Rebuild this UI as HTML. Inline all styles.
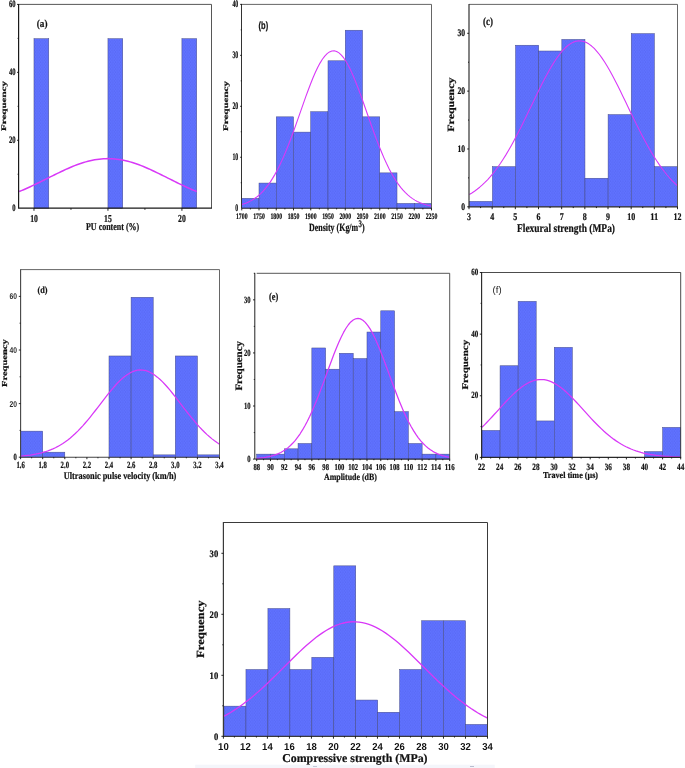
<!DOCTYPE html>
<html><head><meta charset="utf-8"><title>Histograms</title>
<style>
html,body{margin:0;padding:0;background:#fff;}
body{width:685px;height:768px;overflow:hidden;font-family:"Liberation Serif",serif;}
svg{display:block;}
</style></head>
<body>
<svg width="685" height="768" viewBox="0 0 685 768" text-rendering="geometricPrecision">
<defs><pattern id="dots" width="2.5" height="3.4" patternUnits="userSpaceOnUse"><circle cx="0.6" cy="0.85" r="0.5" fill="#3848c8" fill-opacity="0.5"/><circle cx="1.85" cy="2.55" r="0.5" fill="#3848c8" fill-opacity="0.5"/></pattern></defs>
<rect width="685" height="768" fill="#fff"/>
<rect x="33.98" y="38.72" width="14.79" height="169.48" fill="#6072ff"/><rect x="33.98" y="38.72" width="14.79" height="169.48" fill="url(#dots)" stroke="#454b85" stroke-width="0.5"/>
<rect x="107.95" y="38.72" width="14.79" height="169.48" fill="#6072ff"/><rect x="107.95" y="38.72" width="14.79" height="169.48" fill="url(#dots)" stroke="#454b85" stroke-width="0.5"/>
<rect x="181.91" y="38.72" width="14.79" height="169.48" fill="#6072ff"/><rect x="181.91" y="38.72" width="14.79" height="169.48" fill="url(#dots)" stroke="#454b85" stroke-width="0.5"/>
<polyline points="19.19,191.56 21.41,190.64 23.63,189.69 25.85,188.72 28.07,187.72 30.29,186.71 32.51,185.67 34.72,184.62 36.94,183.55 39.16,182.46 41.38,181.37 43.6,180.27 45.82,179.16 48.04,178.05 50.26,176.94 52.48,175.83 54.69,174.73 56.91,173.64 59.13,172.56 61.35,171.5 63.57,170.46 65.79,169.44 68.01,168.45 70.23,167.49 72.45,166.56 74.67,165.67 76.88,164.82 79.1,164.01 81.32,163.25 83.54,162.54 85.76,161.88 87.98,161.28 90.2,160.73 92.42,160.24 94.64,159.81 96.85,159.45 99.07,159.15 101.29,158.91 103.51,158.74 105.73,158.64 107.95,158.61 110.17,158.64 112.39,158.74 114.61,158.91 116.83,159.15 119.04,159.45 121.26,159.81 123.48,160.24 125.7,160.73 127.92,161.28 130.14,161.88 132.36,162.54 134.58,163.25 136.8,164.01 139.01,164.82 141.23,165.67 143.45,166.56 145.67,167.49 147.89,168.45 150.11,169.44 152.33,170.46 154.55,171.5 156.77,172.56 158.99,173.64 161.2,174.73 163.42,175.83 165.64,176.94 167.86,178.05 170.08,179.16 172.3,180.27 174.52,181.37 176.74,182.46 178.96,183.55 181.17,184.62 183.39,185.67 185.61,186.71 187.83,187.72 190.05,188.72 192.27,189.69 194.49,190.64 196.71,191.56" fill="none" stroke="#d838f7" stroke-width="1.5" stroke-linejoin="round" stroke-linecap="butt"/>
<path d="M18.6,4.4 H211.5 V208.2" fill="none" stroke="#444" stroke-width="0.9"/>
<path d="M18.6,3.95 V208.2 H211.95" fill="none" stroke="#1a1a1a" stroke-width="1.2"/>
<path d="M33.98,208.2v2.6M107.95,208.2v2.6M181.91,208.2v2.6" stroke="#111" stroke-width="0.9" fill="none"/>
<path d="M70.97,208.2v1.6M144.93,208.2v1.6" stroke="#111" stroke-width="0.9" fill="none"/>
<path d="M18.6,140.27h-1.6M18.6,72.33h-1.6M18.6,4.4h-1.6" stroke="#111" stroke-width="0.9" fill="none"/>
<path d="M18.6,174.23h-1M18.6,106.3h-1M18.6,38.37h-1" stroke="#111" stroke-width="0.9" fill="none"/>
<rect x="241.75" y="198.36" width="17.25" height="9.84" fill="#6072ff"/><rect x="241.75" y="198.36" width="17.25" height="9.84" fill="url(#dots)" stroke="#454b85" stroke-width="0.5"/>
<rect x="259" y="183.07" width="17.25" height="25.12" fill="#6072ff"/><rect x="259" y="183.07" width="17.25" height="25.12" fill="url(#dots)" stroke="#454b85" stroke-width="0.5"/>
<rect x="276.25" y="116.84" width="17.25" height="91.36" fill="#6072ff"/><rect x="276.25" y="116.84" width="17.25" height="91.36" fill="url(#dots)" stroke="#454b85" stroke-width="0.5"/>
<rect x="293.5" y="132.12" width="17.25" height="76.08" fill="#6072ff"/><rect x="293.5" y="132.12" width="17.25" height="76.08" fill="url(#dots)" stroke="#454b85" stroke-width="0.5"/>
<rect x="310.75" y="111.74" width="17.25" height="96.45" fill="#6072ff"/><rect x="310.75" y="111.74" width="17.25" height="96.45" fill="url(#dots)" stroke="#454b85" stroke-width="0.5"/>
<rect x="328" y="60.79" width="17.25" height="147.41" fill="#6072ff"/><rect x="328" y="60.79" width="17.25" height="147.41" fill="url(#dots)" stroke="#454b85" stroke-width="0.5"/>
<rect x="345.25" y="30.23" width="17.25" height="177.97" fill="#6072ff"/><rect x="345.25" y="30.23" width="17.25" height="177.97" fill="url(#dots)" stroke="#454b85" stroke-width="0.5"/>
<rect x="362.5" y="116.84" width="17.25" height="91.36" fill="#6072ff"/><rect x="362.5" y="116.84" width="17.25" height="91.36" fill="url(#dots)" stroke="#454b85" stroke-width="0.5"/>
<rect x="379.75" y="172.88" width="17.25" height="35.31" fill="#6072ff"/><rect x="379.75" y="172.88" width="17.25" height="35.31" fill="url(#dots)" stroke="#454b85" stroke-width="0.5"/>
<rect x="397" y="203.45" width="17.25" height="4.75" fill="#6072ff"/><rect x="397" y="203.45" width="17.25" height="4.75" fill="url(#dots)" stroke="#454b85" stroke-width="0.5"/>
<rect x="414.25" y="203.45" width="17.25" height="4.75" fill="#6072ff"/><rect x="414.25" y="203.45" width="17.25" height="4.75" fill="url(#dots)" stroke="#454b85" stroke-width="0.5"/>
<polyline points="241.75,204.59 244.12,203.82 246.49,202.92 248.87,201.86 251.24,200.63 253.61,199.21 255.98,197.57 258.35,195.7 260.73,193.57 263.1,191.16 265.47,188.46 267.84,185.44 270.21,182.09 272.58,178.4 274.96,174.37 277.33,169.98 279.7,165.23 282.07,160.14 284.44,154.72 286.82,148.99 289.19,142.97 291.56,136.7 293.93,130.22 296.3,123.59 298.68,116.85 301.05,110.07 303.42,103.32 305.79,96.67 308.16,90.19 310.53,83.97 312.91,78.07 315.28,72.58 317.65,67.57 320.02,63.11 322.39,59.26 324.77,56.08 327.14,53.61 329.51,51.9 331.88,50.95 334.25,50.8 336.62,51.44 339,52.87 341.37,55.05 343.74,57.97 346.11,61.57 348.48,65.8 350.86,70.61 353.23,75.92 355.6,81.67 357.97,87.78 360.34,94.17 362.72,100.77 365.09,107.49 367.46,114.26 369.83,121.03 372.2,127.71 374.57,134.25 376.95,140.6 379.32,146.72 381.69,152.57 384.06,158.11 386.43,163.33 388.81,168.21 391.18,172.73 393.55,176.9 395.92,180.72 398.29,184.2 400.67,187.34 403.04,190.16 405.41,192.68 407.78,194.91 410.15,196.88 412.52,198.61 414.9,200.11 417.27,201.42 419.64,202.54 422.01,203.5 424.38,204.31 426.76,205 429.13,205.59 431.5,206.07" fill="none" stroke="#d838f7" stroke-width="1.1" stroke-linejoin="round" stroke-linecap="butt"/>
<path d="M241.5,4.4 H431.5 V208.2" fill="none" stroke="#555" stroke-width="0.9"/>
<path d="M241.5,3.95 V208.2 H431.95" fill="none" stroke="#333" stroke-width="1.0"/>
<path d="M241.75,208.2v2.2M259,208.2v2.2M276.25,208.2v2.2M293.5,208.2v2.2M310.75,208.2v2.2M328,208.2v2.2M345.25,208.2v2.2M362.5,208.2v2.2M379.75,208.2v2.2M397,208.2v2.2M414.25,208.2v2.2M431.5,208.2v2.2" stroke="#111" stroke-width="0.9" fill="none"/>
<path d="M250.38,208.2v1.2M267.62,208.2v1.2M284.88,208.2v1.2M302.12,208.2v1.2M319.38,208.2v1.2M336.62,208.2v1.2M353.88,208.2v1.2M371.12,208.2v1.2M388.38,208.2v1.2M405.62,208.2v1.2M422.88,208.2v1.2" stroke="#111" stroke-width="0.9" fill="none"/>
<path d="M241.75,157.25h-1.6M241.75,106.3h-1.6M241.75,55.35h-1.6M241.75,4.4h-1.6" stroke="#111" stroke-width="0.9" fill="none"/>
<path d="M241.75,182.72h-1M241.75,131.77h-1M241.75,80.83h-1M241.75,29.88h-1" stroke="#111" stroke-width="0.9" fill="none"/>
<rect x="469.3" y="201.37" width="23.13" height="5.43" fill="#6072ff"/><rect x="469.3" y="201.37" width="23.13" height="5.43" fill="url(#dots)" stroke="#454b85" stroke-width="0.5"/>
<rect x="492.43" y="166.67" width="23.13" height="40.13" fill="#6072ff"/><rect x="492.43" y="166.67" width="23.13" height="40.13" fill="url(#dots)" stroke="#454b85" stroke-width="0.5"/>
<rect x="515.57" y="45.23" width="23.13" height="161.57" fill="#6072ff"/><rect x="515.57" y="45.23" width="23.13" height="161.57" fill="url(#dots)" stroke="#454b85" stroke-width="0.5"/>
<rect x="538.7" y="51.01" width="23.13" height="155.79" fill="#6072ff"/><rect x="538.7" y="51.01" width="23.13" height="155.79" fill="url(#dots)" stroke="#454b85" stroke-width="0.5"/>
<rect x="561.83" y="39.45" width="23.13" height="167.35" fill="#6072ff"/><rect x="561.83" y="39.45" width="23.13" height="167.35" fill="url(#dots)" stroke="#454b85" stroke-width="0.5"/>
<rect x="584.97" y="178.24" width="23.13" height="28.56" fill="#6072ff"/><rect x="584.97" y="178.24" width="23.13" height="28.56" fill="url(#dots)" stroke="#454b85" stroke-width="0.5"/>
<rect x="608.1" y="114.62" width="23.13" height="92.18" fill="#6072ff"/><rect x="608.1" y="114.62" width="23.13" height="92.18" fill="url(#dots)" stroke="#454b85" stroke-width="0.5"/>
<rect x="631.23" y="33.66" width="23.13" height="173.14" fill="#6072ff"/><rect x="631.23" y="33.66" width="23.13" height="173.14" fill="url(#dots)" stroke="#454b85" stroke-width="0.5"/>
<rect x="654.37" y="166.67" width="23.13" height="40.13" fill="#6072ff"/><rect x="654.37" y="166.67" width="23.13" height="40.13" fill="url(#dots)" stroke="#454b85" stroke-width="0.5"/>
<polyline points="469.3,194.55 471.9,192.96 474.5,191.21 477.11,189.3 479.71,187.21 482.31,184.93 484.92,182.45 487.52,179.78 490.12,176.89 492.72,173.8 495.32,170.49 497.93,166.97 500.53,163.23 503.13,159.28 505.74,155.12 508.34,150.76 510.94,146.21 513.54,141.49 516.14,136.59 518.75,131.55 521.35,126.39 523.95,121.11 526.55,115.76 529.16,110.36 531.76,104.93 534.36,99.51 536.97,94.12 539.57,88.82 542.17,83.62 544.77,78.56 547.38,73.69 549.98,69.03 552.58,64.63 555.18,60.51 557.78,56.71 560.39,53.26 562.99,50.18 565.59,47.51 568.2,45.26 570.8,43.46 573.4,42.12 576,41.25 578.61,40.86 581.21,40.95 583.81,41.52 586.41,42.57 589.01,44.09 591.62,46.06 594.22,48.47 596.82,51.3 599.42,54.52 602.03,58.11 604.63,62.03 607.23,66.26 609.84,70.77 612.44,75.51 615.04,80.45 617.64,85.57 620.25,90.81 622.85,96.15 625.45,101.55 628.05,106.98 630.65,112.4 633.26,117.79 635.86,123.12 638.46,128.35 641.07,133.47 643.67,138.46 646.27,143.29 648.87,147.95 651.48,152.43 654.08,156.72 656.68,160.8 659.28,164.67 661.88,168.32 664.49,171.77 667.09,174.99 669.69,178.01 672.3,180.81 674.9,183.41 677.5,185.81" fill="none" stroke="#d838f7" stroke-width="1.1" stroke-linejoin="round" stroke-linecap="butt"/>
<path d="M469,4.4 H677.5 V206.8" fill="none" stroke="#555" stroke-width="0.9"/>
<path d="M469,3.95 V206.8 H677.95" fill="none" stroke="#333" stroke-width="1.2"/>
<path d="M469,206.8v2.4M492.17,206.8v2.4M515.33,206.8v2.4M538.5,206.8v2.4M561.67,206.8v2.4M584.83,206.8v2.4M608,206.8v2.4M631.17,206.8v2.4M654.33,206.8v2.4M677.5,206.8v2.4" stroke="#111" stroke-width="0.9" fill="none"/>
<path d="M480.58,206.8v1.3M503.75,206.8v1.3M526.92,206.8v1.3M550.08,206.8v1.3M573.25,206.8v1.3M596.42,206.8v1.3M619.58,206.8v1.3M642.75,206.8v1.3M665.92,206.8v1.3" stroke="#111" stroke-width="0.9" fill="none"/>
<path d="M469,206.8h-1.8M469,148.97h-1.8M469,91.14h-1.8M469,33.31h-1.8" stroke="#111" stroke-width="0.9" fill="none"/>
<path d="M469,177.89h-1M469,120.06h-1M469,62.23h-1" stroke="#111" stroke-width="0.9" fill="none"/>
<rect x="20.6" y="431.15" width="22.1" height="26.05" fill="#6072ff"/><rect x="20.6" y="431.15" width="22.1" height="26.05" fill="url(#dots)" stroke="#454b85" stroke-width="0.5"/>
<rect x="42.7" y="452.19" width="22.1" height="5.01" fill="#6072ff"/><rect x="42.7" y="452.19" width="22.1" height="5.01" fill="url(#dots)" stroke="#454b85" stroke-width="0.5"/>
<rect x="109" y="355.98" width="22.1" height="101.22" fill="#6072ff"/><rect x="109" y="355.98" width="22.1" height="101.22" fill="url(#dots)" stroke="#454b85" stroke-width="0.5"/>
<rect x="131.1" y="297.29" width="22.1" height="159.91" fill="#6072ff"/><rect x="131.1" y="297.29" width="22.1" height="159.91" fill="url(#dots)" stroke="#454b85" stroke-width="0.5"/>
<rect x="153.2" y="454.87" width="22.1" height="2.33" fill="#6072ff"/><rect x="153.2" y="454.87" width="22.1" height="2.33" fill="url(#dots)" stroke="#454b85" stroke-width="0.5"/>
<rect x="175.3" y="355.98" width="22.1" height="101.22" fill="#6072ff"/><rect x="175.3" y="355.98" width="22.1" height="101.22" fill="url(#dots)" stroke="#454b85" stroke-width="0.5"/>
<rect x="197.4" y="454.87" width="22.1" height="2.33" fill="#6072ff"/><rect x="197.4" y="454.87" width="22.1" height="2.33" fill="url(#dots)" stroke="#454b85" stroke-width="0.5"/>
<polyline points="20.6,456.13 23.09,455.92 25.57,455.67 28.06,455.38 30.55,455.05 33.03,454.66 35.52,454.22 38,453.71 40.49,453.13 42.98,452.46 45.46,451.72 47.95,450.88 50.44,449.93 52.92,448.88 55.41,447.71 57.89,446.42 60.38,445 62.87,443.45 65.35,441.75 67.84,439.91 70.33,437.93 72.81,435.79 75.3,433.51 77.78,431.09 80.27,428.53 82.76,425.84 85.24,423.02 87.73,420.09 90.22,417.06 92.7,413.94 95.19,410.76 97.67,407.54 100.16,404.29 102.65,401.04 105.13,397.82 107.62,394.65 110.11,391.55 112.59,388.57 115.08,385.72 117.56,383.03 120.05,380.53 122.54,378.25 125.02,376.21 127.51,374.42 130,372.92 132.48,371.71 134.97,370.81 137.45,370.23 139.94,369.98 142.43,370.05 144.91,370.46 147.4,371.19 149.88,372.23 152.37,373.58 154.86,375.22 157.34,377.13 159.83,379.29 162.32,381.67 164.8,384.26 167.29,387.03 169.78,389.95 172.26,392.99 174.75,396.12 177.23,399.32 179.72,402.56 182.21,405.81 184.69,409.05 187.18,412.25 189.66,415.41 192.15,418.48 194.64,421.47 197.12,424.35 199.61,427.11 202.1,429.74 204.58,432.24 207.07,434.6 209.55,436.81 212.04,438.87 214.53,440.79 217.01,442.56 219.5,444.19" fill="none" stroke="#d838f7" stroke-width="1.25" stroke-linejoin="round" stroke-linecap="butt"/>
<path d="M20.6,269.6 H219.5 V457.2" fill="none" stroke="#555" stroke-width="0.9"/>
<path d="M20.6,269.15 V457.2 H219.95" fill="none" stroke="#444" stroke-width="1.1"/>
<path d="M20.6,457.2v2M42.7,457.2v2M64.8,457.2v2M86.9,457.2v2M109,457.2v2M131.1,457.2v2M153.2,457.2v2M175.3,457.2v2M197.4,457.2v2M219.5,457.2v2" stroke="#111" stroke-width="0.9" fill="none"/>
<path d="M31.65,457.2v1.1M53.75,457.2v1.1M75.85,457.2v1.1M97.95,457.2v1.1M120.05,457.2v1.1M142.15,457.2v1.1M164.25,457.2v1.1M186.35,457.2v1.1M208.45,457.2v1.1" stroke="#111" stroke-width="0.9" fill="none"/>
<path d="M20.6,457.2h-1.8M20.6,403.6h-1.8M20.6,350h-1.8M20.6,296.4h-1.8" stroke="#111" stroke-width="0.9" fill="none"/>
<path d="M20.6,430.4h-1M20.6,376.8h-1M20.6,323.2h-1" stroke="#111" stroke-width="0.9" fill="none"/>
<rect x="256.7" y="454.14" width="13.79" height="4.96" fill="#6072ff"/><rect x="256.7" y="454.14" width="13.79" height="4.96" fill="url(#dots)" stroke="#454b85" stroke-width="0.5"/>
<rect x="270.49" y="454.14" width="13.79" height="4.96" fill="#6072ff"/><rect x="270.49" y="454.14" width="13.79" height="4.96" fill="url(#dots)" stroke="#454b85" stroke-width="0.5"/>
<rect x="284.27" y="448.83" width="13.79" height="10.27" fill="#6072ff"/><rect x="284.27" y="448.83" width="13.79" height="10.27" fill="url(#dots)" stroke="#454b85" stroke-width="0.5"/>
<rect x="298.06" y="443.52" width="13.79" height="15.58" fill="#6072ff"/><rect x="298.06" y="443.52" width="13.79" height="15.58" fill="url(#dots)" stroke="#454b85" stroke-width="0.5"/>
<rect x="311.84" y="347.97" width="13.79" height="111.13" fill="#6072ff"/><rect x="311.84" y="347.97" width="13.79" height="111.13" fill="url(#dots)" stroke="#454b85" stroke-width="0.5"/>
<rect x="325.63" y="369.2" width="13.79" height="89.9" fill="#6072ff"/><rect x="325.63" y="369.2" width="13.79" height="89.9" fill="url(#dots)" stroke="#454b85" stroke-width="0.5"/>
<rect x="339.41" y="353.28" width="13.79" height="105.82" fill="#6072ff"/><rect x="339.41" y="353.28" width="13.79" height="105.82" fill="url(#dots)" stroke="#454b85" stroke-width="0.5"/>
<rect x="353.2" y="358.59" width="13.79" height="100.51" fill="#6072ff"/><rect x="353.2" y="358.59" width="13.79" height="100.51" fill="url(#dots)" stroke="#454b85" stroke-width="0.5"/>
<rect x="366.99" y="332.04" width="13.79" height="127.06" fill="#6072ff"/><rect x="366.99" y="332.04" width="13.79" height="127.06" fill="url(#dots)" stroke="#454b85" stroke-width="0.5"/>
<rect x="380.77" y="310.81" width="13.79" height="148.29" fill="#6072ff"/><rect x="380.77" y="310.81" width="13.79" height="148.29" fill="url(#dots)" stroke="#454b85" stroke-width="0.5"/>
<rect x="394.56" y="411.67" width="13.79" height="47.43" fill="#6072ff"/><rect x="394.56" y="411.67" width="13.79" height="47.43" fill="url(#dots)" stroke="#454b85" stroke-width="0.5"/>
<rect x="408.34" y="443.52" width="13.79" height="15.58" fill="#6072ff"/><rect x="408.34" y="443.52" width="13.79" height="15.58" fill="url(#dots)" stroke="#454b85" stroke-width="0.5"/>
<rect x="422.13" y="454.14" width="13.79" height="4.96" fill="#6072ff"/><rect x="422.13" y="454.14" width="13.79" height="4.96" fill="url(#dots)" stroke="#454b85" stroke-width="0.5"/>
<rect x="435.91" y="454.14" width="13.79" height="4.96" fill="#6072ff"/><rect x="435.91" y="454.14" width="13.79" height="4.96" fill="url(#dots)" stroke="#454b85" stroke-width="0.5"/>
<polyline points="256.7,458.37 259.11,458.17 261.53,457.91 263.94,457.6 266.35,457.21 268.76,456.73 271.17,456.16 273.59,455.46 276,454.63 278.41,453.63 280.82,452.46 283.24,451.08 285.65,449.48 288.06,447.63 290.48,445.5 292.89,443.06 295.3,440.31 297.71,437.22 300.12,433.77 302.54,429.95 304.95,425.76 307.36,421.19 309.77,416.26 312.19,410.97 314.6,405.35 317.01,399.43 319.42,393.26 321.84,386.89 324.25,380.37 326.66,373.77 329.07,367.18 331.49,360.67 333.9,354.33 336.31,348.24 338.73,342.51 341.14,337.21 343.55,332.43 345.96,328.25 348.38,324.74 350.79,321.96 353.2,319.96 355.61,318.77 358.03,318.43 360.44,318.92 362.85,320.25 365.26,322.38 367.67,325.29 370.09,328.92 372.5,333.21 374.91,338.08 377.32,343.46 379.74,349.26 382.15,355.4 384.56,361.78 386.98,368.31 389.39,374.91 391.8,381.49 394.21,387.99 396.62,394.34 399.04,400.47 401.45,406.34 403.86,411.9 406.27,417.13 408.69,422 411.1,426.51 413.51,430.63 415.92,434.39 418.34,437.78 420.75,440.81 423.16,443.5 425.57,445.88 427.99,447.96 430.4,449.77 432.81,451.34 435.23,452.68 437.64,453.82 440.05,454.78 442.46,455.59 444.88,456.26 447.29,456.82 449.7,457.28" fill="none" stroke="#d838f7" stroke-width="1.25" stroke-linejoin="round" stroke-linecap="butt"/>
<path d="M256.7,273.3 H449.7 V459.1" fill="none" stroke="#444" stroke-width="0.9"/>
<path d="M254.8,272.9 V459.1 H450.1" fill="none" stroke="#222" stroke-width="1.0"/>
<path d="M256.7,459.1v2M270.49,459.1v2M284.27,459.1v2M298.06,459.1v2M311.84,459.1v2M325.63,459.1v2M339.41,459.1v2M353.2,459.1v2M366.99,459.1v2M380.77,459.1v2M394.56,459.1v2M408.34,459.1v2M422.13,459.1v2M435.91,459.1v2M449.7,459.1v2" stroke="#111" stroke-width="0.9" fill="none"/>
<path d="M263.59,459.1v1.1M277.38,459.1v1.1M291.16,459.1v1.1M304.95,459.1v1.1M318.74,459.1v1.1M332.52,459.1v1.1M346.31,459.1v1.1M360.09,459.1v1.1M373.88,459.1v1.1M387.66,459.1v1.1M401.45,459.1v1.1M415.24,459.1v1.1M429.02,459.1v1.1M442.81,459.1v1.1" stroke="#111" stroke-width="0.9" fill="none"/>
<path d="M254.8,459.1h-1.8M254.8,406.01h-1.8M254.8,352.93h-1.8M254.8,299.84h-1.8" stroke="#111" stroke-width="0.9" fill="none"/>
<path d="M254.8,432.56h-1M254.8,379.47h-1M254.8,326.39h-1M254.8,273.3h-1" stroke="#111" stroke-width="0.9" fill="none"/>
<rect x="482" y="430.46" width="18.06" height="26.94" fill="#6072ff"/><rect x="482" y="430.46" width="18.06" height="26.94" fill="url(#dots)" stroke="#454b85" stroke-width="0.5"/>
<rect x="500.06" y="365.76" width="18.06" height="91.64" fill="#6072ff"/><rect x="500.06" y="365.76" width="18.06" height="91.64" fill="url(#dots)" stroke="#454b85" stroke-width="0.5"/>
<rect x="518.13" y="301.37" width="18.06" height="156.03" fill="#6072ff"/><rect x="518.13" y="301.37" width="18.06" height="156.03" fill="url(#dots)" stroke="#454b85" stroke-width="0.5"/>
<rect x="536.19" y="420.95" width="18.06" height="36.45" fill="#6072ff"/><rect x="536.19" y="420.95" width="18.06" height="36.45" fill="url(#dots)" stroke="#454b85" stroke-width="0.5"/>
<rect x="554.25" y="347.36" width="18.06" height="110.04" fill="#6072ff"/><rect x="554.25" y="347.36" width="18.06" height="110.04" fill="url(#dots)" stroke="#454b85" stroke-width="0.5"/>
<rect x="644.57" y="451.62" width="18.06" height="5.78" fill="#6072ff"/><rect x="644.57" y="451.62" width="18.06" height="5.78" fill="url(#dots)" stroke="#454b85" stroke-width="0.5"/>
<rect x="662.64" y="427.39" width="18.06" height="30.01" fill="#6072ff"/><rect x="662.64" y="427.39" width="18.06" height="30.01" fill="url(#dots)" stroke="#454b85" stroke-width="0.5"/>
<polyline points="482,427.28 484.48,424.82 486.97,422.28 489.45,419.67 491.94,417 494.42,414.29 496.9,411.56 499.39,408.81 501.87,406.08 504.35,403.37 506.84,400.71 509.32,398.12 511.81,395.62 514.29,393.24 516.77,390.99 519.26,388.89 521.74,386.96 524.22,385.22 526.71,383.69 529.19,382.38 531.67,381.31 534.16,380.48 536.64,379.9 539.13,379.58 541.61,379.53 544.09,379.73 546.58,380.2 549.06,380.93 551.55,381.9 554.03,383.11 556.51,384.55 559,386.21 561.48,388.06 563.96,390.09 566.45,392.28 568.93,394.61 571.41,397.06 573.9,399.62 576.38,402.25 578.87,404.94 581.35,407.67 583.83,410.41 586.32,413.15 588.8,415.88 591.29,418.56 593.77,421.2 596.25,423.77 598.74,426.26 601.22,428.67 603.7,430.98 606.19,433.18 608.67,435.28 611.15,437.26 613.64,439.13 616.12,440.88 618.61,442.51 621.09,444.03 623.57,445.43 626.06,446.73 628.54,447.91 631.03,448.99 633.51,449.97 635.99,450.86 638.48,451.67 640.96,452.39 643.44,453.03 645.93,453.61 648.41,454.12 650.9,454.57 653.38,454.97 655.86,455.32 658.35,455.62 660.83,455.89 663.31,456.12 665.8,456.32 668.28,456.49 670.77,456.63 673.25,456.76 675.73,456.87 678.22,456.96 680.7,457.03" fill="none" stroke="#d838f7" stroke-width="1.25" stroke-linejoin="round" stroke-linecap="butt"/>
<path d="M481.6,272.5 H680.7 V457.4" fill="none" stroke="#383838" stroke-width="0.9"/>
<path d="M481.6,272.05 V457.4 H681.15" fill="none" stroke="#2a2a2a" stroke-width="1.15"/>
<path d="M481.6,457.4v2M499.7,457.4v2M517.8,457.4v2M535.9,457.4v2M554,457.4v2M572.1,457.4v2M590.2,457.4v2M608.3,457.4v2M626.4,457.4v2M644.5,457.4v2M662.6,457.4v2M680.7,457.4v2" stroke="#111" stroke-width="0.9" fill="none"/>
<path d="M490.65,457.4v1.1M508.75,457.4v1.1M526.85,457.4v1.1M544.95,457.4v1.1M563.05,457.4v1.1M581.15,457.4v1.1M599.25,457.4v1.1M617.35,457.4v1.1M635.45,457.4v1.1M653.55,457.4v1.1M671.65,457.4v1.1" stroke="#111" stroke-width="0.9" fill="none"/>
<path d="M481.6,457.4h-1.8M481.6,395.77h-1.8M481.6,334.13h-1.8M481.6,272.5h-1.8" stroke="#111" stroke-width="0.9" fill="none"/>
<path d="M481.6,426.58h-1M481.6,364.95h-1M481.6,303.32h-1" stroke="#111" stroke-width="0.9" fill="none"/>
<rect x="224" y="706.15" width="21.96" height="30.15" fill="#6072ff"/><rect x="224" y="706.15" width="21.96" height="30.15" fill="url(#dots)" stroke="#454b85" stroke-width="0.5"/>
<rect x="245.96" y="669.55" width="21.96" height="66.75" fill="#6072ff"/><rect x="245.96" y="669.55" width="21.96" height="66.75" fill="url(#dots)" stroke="#454b85" stroke-width="0.5"/>
<rect x="267.92" y="608.55" width="21.96" height="127.75" fill="#6072ff"/><rect x="267.92" y="608.55" width="21.96" height="127.75" fill="url(#dots)" stroke="#454b85" stroke-width="0.5"/>
<rect x="289.88" y="669.55" width="21.96" height="66.75" fill="#6072ff"/><rect x="289.88" y="669.55" width="21.96" height="66.75" fill="url(#dots)" stroke="#454b85" stroke-width="0.5"/>
<rect x="311.83" y="657.35" width="21.96" height="78.95" fill="#6072ff"/><rect x="311.83" y="657.35" width="21.96" height="78.95" fill="url(#dots)" stroke="#454b85" stroke-width="0.5"/>
<rect x="333.79" y="565.85" width="21.96" height="170.45" fill="#6072ff"/><rect x="333.79" y="565.85" width="21.96" height="170.45" fill="url(#dots)" stroke="#454b85" stroke-width="0.5"/>
<rect x="355.75" y="700.05" width="21.96" height="36.25" fill="#6072ff"/><rect x="355.75" y="700.05" width="21.96" height="36.25" fill="url(#dots)" stroke="#454b85" stroke-width="0.5"/>
<rect x="377.71" y="712.25" width="21.96" height="24.05" fill="#6072ff"/><rect x="377.71" y="712.25" width="21.96" height="24.05" fill="url(#dots)" stroke="#454b85" stroke-width="0.5"/>
<rect x="399.67" y="669.55" width="21.96" height="66.75" fill="#6072ff"/><rect x="399.67" y="669.55" width="21.96" height="66.75" fill="url(#dots)" stroke="#454b85" stroke-width="0.5"/>
<rect x="421.62" y="620.75" width="21.96" height="115.55" fill="#6072ff"/><rect x="421.62" y="620.75" width="21.96" height="115.55" fill="url(#dots)" stroke="#454b85" stroke-width="0.5"/>
<rect x="443.58" y="620.75" width="21.96" height="115.55" fill="#6072ff"/><rect x="443.58" y="620.75" width="21.96" height="115.55" fill="url(#dots)" stroke="#454b85" stroke-width="0.5"/>
<rect x="465.54" y="724.45" width="21.96" height="11.85" fill="#6072ff"/><rect x="465.54" y="724.45" width="21.96" height="11.85" fill="url(#dots)" stroke="#454b85" stroke-width="0.5"/>
<polyline points="224,716.21 227.29,714.38 230.59,712.44 233.88,710.38 237.17,708.21 240.47,705.92 243.76,703.53 247.06,701.02 250.35,698.4 253.64,695.68 256.94,692.87 260.23,689.96 263.52,686.97 266.82,683.9 270.11,680.77 273.41,677.58 276.7,674.35 279.99,671.09 283.29,667.8 286.58,664.52 289.88,661.24 293.17,657.99 296.46,654.78 299.76,651.63 303.05,648.56 306.34,645.57 309.64,642.7 312.93,639.95 316.22,637.34 319.52,634.89 322.81,632.61 326.11,630.51 329.4,628.62 332.69,626.93 335.99,625.47 339.28,624.24 342.57,623.25 345.87,622.5 349.16,622.01 352.46,621.77 355.75,621.79 359.04,622.06 362.34,622.59 365.63,623.36 368.92,624.39 372.22,625.65 375.51,627.14 378.81,628.86 382.1,630.78 385.39,632.9 388.69,635.21 391.98,637.68 395.27,640.31 398.57,643.08 401.86,645.97 405.16,648.96 408.45,652.05 411.74,655.21 415.04,658.42 418.33,661.68 421.62,664.96 424.92,668.24 428.21,671.52 431.51,674.78 434.8,678.01 438.09,681.19 441.39,684.32 444.68,687.37 447.98,690.35 451.27,693.25 454.56,696.05 457.86,698.76 461.15,701.36 464.44,703.85 467.74,706.23 471.03,708.5 474.32,710.66 477.62,712.7 480.91,714.63 484.21,716.45 487.5,718.15" fill="none" stroke="#d838f7" stroke-width="1.3" stroke-linejoin="round" stroke-linecap="butt"/>
<path d="M223.4,522.5 H487.5 V736.3" fill="none" stroke="#3a3a3a" stroke-width="1.0"/>
<path d="M223.4,522 V736.3 H488" fill="none" stroke="#3a3a3a" stroke-width="1.2"/>
<path d="M223.4,736.3v2.4M245.41,736.3v2.4M267.42,736.3v2.4M289.43,736.3v2.4M311.43,736.3v2.4M333.44,736.3v2.4M355.45,736.3v2.4M377.46,736.3v2.4M399.47,736.3v2.4M421.48,736.3v2.4M443.48,736.3v2.4M465.49,736.3v2.4M487.5,736.3v2.4" stroke="#111" stroke-width="0.9" fill="none"/>
<path d="M234.4,736.3v1.2M256.41,736.3v1.2M278.42,736.3v1.2M300.43,736.3v1.2M322.44,736.3v1.2M344.45,736.3v1.2M366.45,736.3v1.2M388.46,736.3v1.2M410.47,736.3v1.2M432.48,736.3v1.2M454.49,736.3v1.2M476.5,736.3v1.2" stroke="#111" stroke-width="0.9" fill="none"/>
<path d="M223.4,736.3h-2M223.4,675.3h-2M223.4,614.3h-2M223.4,553.3h-2" stroke="#111" stroke-width="0.9" fill="none"/>
<path d="M223.4,705.8h-1.1M223.4,644.8h-1.1M223.4,583.8h-1.1" stroke="#111" stroke-width="0.9" fill="none"/>
<rect x="195.2" y="764.7" width="299.5" height="3.3" fill="#f4f6fb"/><rect x="313" y="766" width="4" height="1" fill="#c3c7d6"/><rect x="470" y="766" width="4" height="1" fill="#b9bdcf"/>
<g opacity="0.999" stroke="#111" stroke-width="0.22" stroke-linejoin="round">
<text x="30.13" y="221.5" font-family='"Liberation Serif", serif' font-weight="bold" font-size="10.6" textLength="7.7" lengthAdjust="spacingAndGlyphs" fill="#111" >10</text>
<text x="104.1" y="221.5" font-family='"Liberation Serif", serif' font-weight="bold" font-size="10.6" textLength="7.7" lengthAdjust="spacingAndGlyphs" fill="#111" >15</text>
<text x="178.06" y="221.5" font-family='"Liberation Serif", serif' font-weight="bold" font-size="10.6" textLength="7.7" lengthAdjust="spacingAndGlyphs" fill="#111" >20</text>
<text x="12.2" y="211.1" font-family='"Liberation Serif", serif' font-weight="bold" font-size="9.8" textLength="3.3" lengthAdjust="spacingAndGlyphs" fill="#111" >0</text>
<text x="8.9" y="143.17" font-family='"Liberation Serif", serif' font-weight="bold" font-size="9.8" textLength="6.6" lengthAdjust="spacingAndGlyphs" fill="#111" >20</text>
<text x="8.9" y="75.23" font-family='"Liberation Serif", serif' font-weight="bold" font-size="9.8" textLength="6.6" lengthAdjust="spacingAndGlyphs" fill="#111" >40</text>
<text x="8.9" y="7.3" font-family='"Liberation Serif", serif' font-weight="bold" font-size="9.8" textLength="6.6" lengthAdjust="spacingAndGlyphs" fill="#111" >60</text>
<text x="36.8" y="26.6" font-family='"Liberation Serif", serif' font-weight="bold" font-size="10.5" textLength="10.7" lengthAdjust="spacingAndGlyphs" fill="#111" >(a)</text>
<text x="86" y="230.2" font-family='"Liberation Serif", serif' font-weight="bold" font-size="10.4" textLength="53.2" lengthAdjust="spacingAndGlyphs" fill="#111" >PU content (%)</text>
<text transform="translate(5.7,131) rotate(-90)" x="0" y="0" font-family='"Liberation Serif", serif' font-weight="bold" font-size="6.9" textLength="50" lengthAdjust="spacingAndGlyphs" fill="#111" >Frequency</text>
<text x="235.95" y="219.3" font-family='"Liberation Serif", serif' font-weight="bold" font-size="8.4" textLength="11.6" lengthAdjust="spacingAndGlyphs" fill="#111" >1700</text>
<text x="253.2" y="219.3" font-family='"Liberation Serif", serif' font-weight="bold" font-size="8.4" textLength="11.6" lengthAdjust="spacingAndGlyphs" fill="#111" >1750</text>
<text x="270.45" y="219.3" font-family='"Liberation Serif", serif' font-weight="bold" font-size="8.4" textLength="11.6" lengthAdjust="spacingAndGlyphs" fill="#111" >1800</text>
<text x="287.7" y="219.3" font-family='"Liberation Serif", serif' font-weight="bold" font-size="8.4" textLength="11.6" lengthAdjust="spacingAndGlyphs" fill="#111" >1850</text>
<text x="304.95" y="219.3" font-family='"Liberation Serif", serif' font-weight="bold" font-size="8.4" textLength="11.6" lengthAdjust="spacingAndGlyphs" fill="#111" >1900</text>
<text x="322.2" y="219.3" font-family='"Liberation Serif", serif' font-weight="bold" font-size="8.4" textLength="11.6" lengthAdjust="spacingAndGlyphs" fill="#111" >1950</text>
<text x="339.45" y="219.3" font-family='"Liberation Serif", serif' font-weight="bold" font-size="8.4" textLength="11.6" lengthAdjust="spacingAndGlyphs" fill="#111" >2000</text>
<text x="356.7" y="219.3" font-family='"Liberation Serif", serif' font-weight="bold" font-size="8.4" textLength="11.6" lengthAdjust="spacingAndGlyphs" fill="#111" >2050</text>
<text x="373.95" y="219.3" font-family='"Liberation Serif", serif' font-weight="bold" font-size="8.4" textLength="11.6" lengthAdjust="spacingAndGlyphs" fill="#111" >2100</text>
<text x="391.2" y="219.3" font-family='"Liberation Serif", serif' font-weight="bold" font-size="8.4" textLength="11.6" lengthAdjust="spacingAndGlyphs" fill="#111" >2150</text>
<text x="408.45" y="219.3" font-family='"Liberation Serif", serif' font-weight="bold" font-size="8.4" textLength="11.6" lengthAdjust="spacingAndGlyphs" fill="#111" >2200</text>
<text x="425.7" y="219.3" font-family='"Liberation Serif", serif' font-weight="bold" font-size="8.4" textLength="11.6" lengthAdjust="spacingAndGlyphs" fill="#111" >2250</text>
<text x="235.3" y="211.1" font-family='"Liberation Serif", serif' font-weight="bold" font-size="10" textLength="2.9" lengthAdjust="spacingAndGlyphs" fill="#111" >0</text>
<text x="232.4" y="160.15" font-family='"Liberation Serif", serif' font-weight="bold" font-size="10" textLength="5.8" lengthAdjust="spacingAndGlyphs" fill="#111" >10</text>
<text x="232.4" y="109.2" font-family='"Liberation Serif", serif' font-weight="bold" font-size="10" textLength="5.8" lengthAdjust="spacingAndGlyphs" fill="#111" >20</text>
<text x="232.4" y="58.25" font-family='"Liberation Serif", serif' font-weight="bold" font-size="10" textLength="5.8" lengthAdjust="spacingAndGlyphs" fill="#111" >30</text>
<text x="232.4" y="7.3" font-family='"Liberation Serif", serif' font-weight="bold" font-size="10" textLength="5.8" lengthAdjust="spacingAndGlyphs" fill="#111" >40</text>
<text x="258.6" y="29" font-family='"Liberation Sans", sans-serif' font-weight="bold" font-size="10.5" textLength="9.6" lengthAdjust="spacingAndGlyphs" fill="#111" >(b)</text>
<text x="309" y="231.2" font-family='"Liberation Serif", serif' font-weight="bold" font-size="11" textLength="49.2" lengthAdjust="spacingAndGlyphs" fill="#111" >Density (Kg/m</text>
<text x="358.4" y="226.9" font-family='"Liberation Serif", serif' font-weight="bold" font-size="10" textLength="3.4" lengthAdjust="spacingAndGlyphs" fill="#111" >3</text>
<text x="361.9" y="231.2" font-family='"Liberation Serif", serif' font-weight="bold" font-size="11" textLength="2.7" lengthAdjust="spacingAndGlyphs" fill="#111" >)</text>
<text transform="translate(228.4,131) rotate(-90)" x="0" y="0" font-family='"Liberation Serif", serif' font-weight="bold" font-size="7" textLength="50" lengthAdjust="spacingAndGlyphs" fill="#111" >Frequency</text>
<text x="467" y="220.2" font-family='"Liberation Serif", serif' font-weight="bold" font-size="10.2" textLength="4" lengthAdjust="spacingAndGlyphs" fill="#111" >3</text>
<text x="490.17" y="220.2" font-family='"Liberation Serif", serif' font-weight="bold" font-size="10.2" textLength="4" lengthAdjust="spacingAndGlyphs" fill="#111" >4</text>
<text x="513.33" y="220.2" font-family='"Liberation Serif", serif' font-weight="bold" font-size="10.2" textLength="4" lengthAdjust="spacingAndGlyphs" fill="#111" >5</text>
<text x="536.5" y="220.2" font-family='"Liberation Serif", serif' font-weight="bold" font-size="10.2" textLength="4" lengthAdjust="spacingAndGlyphs" fill="#111" >6</text>
<text x="559.67" y="220.2" font-family='"Liberation Serif", serif' font-weight="bold" font-size="10.2" textLength="4" lengthAdjust="spacingAndGlyphs" fill="#111" >7</text>
<text x="582.83" y="220.2" font-family='"Liberation Serif", serif' font-weight="bold" font-size="10.2" textLength="4" lengthAdjust="spacingAndGlyphs" fill="#111" >8</text>
<text x="606" y="220.2" font-family='"Liberation Serif", serif' font-weight="bold" font-size="10.2" textLength="4" lengthAdjust="spacingAndGlyphs" fill="#111" >9</text>
<text x="627.17" y="220.2" font-family='"Liberation Serif", serif' font-weight="bold" font-size="10.2" textLength="8" lengthAdjust="spacingAndGlyphs" fill="#111" >10</text>
<text x="650.33" y="220.2" font-family='"Liberation Serif", serif' font-weight="bold" font-size="10.2" textLength="8" lengthAdjust="spacingAndGlyphs" fill="#111" >11</text>
<text x="673.5" y="220.2" font-family='"Liberation Serif", serif' font-weight="bold" font-size="10.2" textLength="8" lengthAdjust="spacingAndGlyphs" fill="#111" >12</text>
<text x="461.2" y="209.7" font-family='"Liberation Serif", serif' font-weight="bold" font-size="10" textLength="3.8" lengthAdjust="spacingAndGlyphs" fill="#111" >0</text>
<text x="457.4" y="151.87" font-family='"Liberation Serif", serif' font-weight="bold" font-size="10" textLength="7.6" lengthAdjust="spacingAndGlyphs" fill="#111" >10</text>
<text x="457.4" y="94.04" font-family='"Liberation Serif", serif' font-weight="bold" font-size="10" textLength="7.6" lengthAdjust="spacingAndGlyphs" fill="#111" >20</text>
<text x="457.4" y="36.21" font-family='"Liberation Serif", serif' font-weight="bold" font-size="10" textLength="7.6" lengthAdjust="spacingAndGlyphs" fill="#111" >30</text>
<text x="483" y="25" font-family='"Liberation Serif", serif' font-weight="bold" font-size="11.2" textLength="10" lengthAdjust="spacingAndGlyphs" fill="#111" >(c)</text>
<text x="517" y="231.5" font-family='"Liberation Serif", serif' font-weight="bold" font-size="11.8" textLength="98" lengthAdjust="spacingAndGlyphs" fill="#111" >Flexural strength (MPa)</text>
<text transform="translate(454,131.8) rotate(-90)" x="0" y="0" font-family='"Liberation Serif", serif' font-weight="bold" font-size="9.6" textLength="54.4" lengthAdjust="spacingAndGlyphs" fill="#111" >Frequency</text>
<text x="16.41" y="468.1" font-family='"Liberation Serif", serif' font-weight="bold" font-size="9.5" textLength="8.38" lengthAdjust="spacingAndGlyphs" fill="#111" >1.6</text>
<text x="38.51" y="468.1" font-family='"Liberation Serif", serif' font-weight="bold" font-size="9.5" textLength="8.38" lengthAdjust="spacingAndGlyphs" fill="#111" >1.8</text>
<text x="60.61" y="468.1" font-family='"Liberation Serif", serif' font-weight="bold" font-size="9.5" textLength="8.38" lengthAdjust="spacingAndGlyphs" fill="#111" >2.0</text>
<text x="82.71" y="468.1" font-family='"Liberation Serif", serif' font-weight="bold" font-size="9.5" textLength="8.38" lengthAdjust="spacingAndGlyphs" fill="#111" >2.2</text>
<text x="104.81" y="468.1" font-family='"Liberation Serif", serif' font-weight="bold" font-size="9.5" textLength="8.38" lengthAdjust="spacingAndGlyphs" fill="#111" >2.4</text>
<text x="126.91" y="468.1" font-family='"Liberation Serif", serif' font-weight="bold" font-size="9.5" textLength="8.38" lengthAdjust="spacingAndGlyphs" fill="#111" >2.6</text>
<text x="149.01" y="468.1" font-family='"Liberation Serif", serif' font-weight="bold" font-size="9.5" textLength="8.38" lengthAdjust="spacingAndGlyphs" fill="#111" >2.8</text>
<text x="171.11" y="468.1" font-family='"Liberation Serif", serif' font-weight="bold" font-size="9.5" textLength="8.38" lengthAdjust="spacingAndGlyphs" fill="#111" >3.0</text>
<text x="193.21" y="468.1" font-family='"Liberation Serif", serif' font-weight="bold" font-size="9.5" textLength="8.38" lengthAdjust="spacingAndGlyphs" fill="#111" >3.2</text>
<text x="215.31" y="468.1" font-family='"Liberation Serif", serif' font-weight="bold" font-size="9.5" textLength="8.38" lengthAdjust="spacingAndGlyphs" fill="#111" >3.4</text>
<text x="13.5" y="460.4" font-family='"Liberation Serif", serif' font-weight="bold" font-size="9.5" textLength="3.3" lengthAdjust="spacingAndGlyphs" fill="#111" >0</text>
<text x="9.4" y="406.6" font-family='"Liberation Sans", sans-serif' font-weight="bold" font-size="8.4" textLength="7.5" lengthAdjust="spacingAndGlyphs" fill="#2a2a2a" stroke="none">20</text>
<text x="9.4" y="353" font-family='"Liberation Sans", sans-serif' font-weight="bold" font-size="8.4" textLength="7.5" lengthAdjust="spacingAndGlyphs" fill="#2a2a2a" stroke="none">40</text>
<text x="9.4" y="299.4" font-family='"Liberation Sans", sans-serif' font-weight="bold" font-size="8.4" textLength="7.5" lengthAdjust="spacingAndGlyphs" fill="#2a2a2a" stroke="none">60</text>
<text x="37.5" y="293" font-family='"Liberation Serif", serif' font-weight="bold" font-size="9.5" textLength="10" lengthAdjust="spacingAndGlyphs" fill="#111" >(d)</text>
<text x="63.8" y="478.6" font-family='"Liberation Serif", serif' font-weight="bold" font-size="10" textLength="112.5" lengthAdjust="spacingAndGlyphs" fill="#111" >Ultrasonic pulse velocity (km/h)</text>
<text transform="translate(6.5,387) rotate(-90)" x="0" y="0" font-family='"Liberation Serif", serif' font-weight="bold" font-size="7.6" textLength="47.8" lengthAdjust="spacingAndGlyphs" fill="#111" >Frequency</text>
<text x="247.3" y="462.3" font-family='"Liberation Serif", serif' font-weight="bold" font-size="9.5" textLength="3.3" lengthAdjust="spacingAndGlyphs" fill="#111" >0</text>
<text x="244" y="409.21" font-family='"Liberation Serif", serif' font-weight="bold" font-size="9.5" textLength="6.6" lengthAdjust="spacingAndGlyphs" fill="#111" >10</text>
<text x="244" y="356.13" font-family='"Liberation Serif", serif' font-weight="bold" font-size="9.5" textLength="6.6" lengthAdjust="spacingAndGlyphs" fill="#111" >20</text>
<text x="244" y="303.04" font-family='"Liberation Serif", serif' font-weight="bold" font-size="9.5" textLength="6.6" lengthAdjust="spacingAndGlyphs" fill="#111" >30</text>
<text x="253.4" y="470.2" font-family='"Liberation Serif", serif' font-weight="bold" font-size="9" textLength="6.6" lengthAdjust="spacingAndGlyphs" fill="#111" >88</text>
<text x="267.19" y="470.2" font-family='"Liberation Serif", serif' font-weight="bold" font-size="9" textLength="6.6" lengthAdjust="spacingAndGlyphs" fill="#111" >90</text>
<text x="280.97" y="470.2" font-family='"Liberation Serif", serif' font-weight="bold" font-size="9" textLength="6.6" lengthAdjust="spacingAndGlyphs" fill="#111" >92</text>
<text x="294.76" y="470.2" font-family='"Liberation Serif", serif' font-weight="bold" font-size="9" textLength="6.6" lengthAdjust="spacingAndGlyphs" fill="#111" >94</text>
<text x="308.54" y="470.2" font-family='"Liberation Serif", serif' font-weight="bold" font-size="9" textLength="6.6" lengthAdjust="spacingAndGlyphs" fill="#111" >96</text>
<text x="322.33" y="470.2" font-family='"Liberation Serif", serif' font-weight="bold" font-size="9" textLength="6.6" lengthAdjust="spacingAndGlyphs" fill="#111" >98</text>
<text x="334.46" y="470.2" font-family='"Liberation Serif", serif' font-weight="bold" font-size="9" textLength="9.9" lengthAdjust="spacingAndGlyphs" fill="#111" >100</text>
<text x="348.25" y="470.2" font-family='"Liberation Serif", serif' font-weight="bold" font-size="9" textLength="9.9" lengthAdjust="spacingAndGlyphs" fill="#111" >102</text>
<text x="362.04" y="470.2" font-family='"Liberation Serif", serif' font-weight="bold" font-size="9" textLength="9.9" lengthAdjust="spacingAndGlyphs" fill="#111" >104</text>
<text x="375.82" y="470.2" font-family='"Liberation Serif", serif' font-weight="bold" font-size="9" textLength="9.9" lengthAdjust="spacingAndGlyphs" fill="#111" >106</text>
<text x="389.61" y="470.2" font-family='"Liberation Serif", serif' font-weight="bold" font-size="9" textLength="9.9" lengthAdjust="spacingAndGlyphs" fill="#111" >108</text>
<text x="403.39" y="470.2" font-family='"Liberation Serif", serif' font-weight="bold" font-size="9" textLength="9.9" lengthAdjust="spacingAndGlyphs" fill="#111" >110</text>
<text x="417.18" y="470.2" font-family='"Liberation Serif", serif' font-weight="bold" font-size="9" textLength="9.9" lengthAdjust="spacingAndGlyphs" fill="#111" >112</text>
<text x="430.96" y="470.2" font-family='"Liberation Serif", serif' font-weight="bold" font-size="9" textLength="9.9" lengthAdjust="spacingAndGlyphs" fill="#111" >114</text>
<text x="444.75" y="470.2" font-family='"Liberation Serif", serif' font-weight="bold" font-size="9" textLength="9.9" lengthAdjust="spacingAndGlyphs" fill="#111" >116</text>
<text x="269" y="300" font-family='"Liberation Serif", serif' font-weight="bold" font-size="10.6" textLength="9.3" lengthAdjust="spacingAndGlyphs" fill="#111" >(e)</text>
<text x="324" y="479.6" font-family='"Liberation Serif", serif' font-weight="bold" font-size="9.5" textLength="52.8" lengthAdjust="spacingAndGlyphs" fill="#111" >Amplitude (dB)</text>
<text transform="translate(241.8,390.6) rotate(-90)" x="0" y="0" font-family='"Liberation Serif", serif' font-weight="bold" font-size="9.8" textLength="49.6" lengthAdjust="spacingAndGlyphs" fill="#111" >Frequency</text>
<text x="474.8" y="460.1" font-family='"Liberation Serif", serif' font-weight="bold" font-size="9.5" textLength="3.5" lengthAdjust="spacingAndGlyphs" fill="#111" >0</text>
<text x="471.3" y="398.47" font-family='"Liberation Serif", serif' font-weight="bold" font-size="9.5" textLength="7" lengthAdjust="spacingAndGlyphs" fill="#111" >20</text>
<text x="471.3" y="336.83" font-family='"Liberation Serif", serif' font-weight="bold" font-size="9.5" textLength="7" lengthAdjust="spacingAndGlyphs" fill="#111" >40</text>
<text x="471.3" y="275.2" font-family='"Liberation Serif", serif' font-weight="bold" font-size="9.5" textLength="7" lengthAdjust="spacingAndGlyphs" fill="#111" >60</text>
<text x="478" y="470.3" font-family='"Liberation Serif", serif' font-weight="bold" font-size="9.6" textLength="7.2" lengthAdjust="spacingAndGlyphs" fill="#111" >22</text>
<text x="496.1" y="470.3" font-family='"Liberation Serif", serif' font-weight="bold" font-size="9.6" textLength="7.2" lengthAdjust="spacingAndGlyphs" fill="#111" >24</text>
<text x="514.2" y="470.3" font-family='"Liberation Serif", serif' font-weight="bold" font-size="9.6" textLength="7.2" lengthAdjust="spacingAndGlyphs" fill="#111" >26</text>
<text x="532.3" y="470.3" font-family='"Liberation Serif", serif' font-weight="bold" font-size="9.6" textLength="7.2" lengthAdjust="spacingAndGlyphs" fill="#111" >28</text>
<text x="550.4" y="470.3" font-family='"Liberation Serif", serif' font-weight="bold" font-size="9.6" textLength="7.2" lengthAdjust="spacingAndGlyphs" fill="#111" >30</text>
<text x="568.5" y="470.3" font-family='"Liberation Serif", serif' font-weight="bold" font-size="9.6" textLength="7.2" lengthAdjust="spacingAndGlyphs" fill="#111" >32</text>
<text x="586.6" y="470.3" font-family='"Liberation Serif", serif' font-weight="bold" font-size="9.6" textLength="7.2" lengthAdjust="spacingAndGlyphs" fill="#111" >34</text>
<text x="604.7" y="470.3" font-family='"Liberation Serif", serif' font-weight="bold" font-size="9.6" textLength="7.2" lengthAdjust="spacingAndGlyphs" fill="#111" >36</text>
<text x="622.8" y="470.3" font-family='"Liberation Serif", serif' font-weight="bold" font-size="9.6" textLength="7.2" lengthAdjust="spacingAndGlyphs" fill="#111" >38</text>
<text x="640.9" y="470.3" font-family='"Liberation Serif", serif' font-weight="bold" font-size="9.6" textLength="7.2" lengthAdjust="spacingAndGlyphs" fill="#111" >40</text>
<text x="659" y="470.3" font-family='"Liberation Serif", serif' font-weight="bold" font-size="9.6" textLength="7.2" lengthAdjust="spacingAndGlyphs" fill="#111" >42</text>
<text x="677.1" y="470.3" font-family='"Liberation Serif", serif' font-weight="bold" font-size="9.6" textLength="7.2" lengthAdjust="spacingAndGlyphs" fill="#111" >44</text>
<text x="492.6" y="293.2" font-family='"Liberation Sans", sans-serif' font-weight="normal" font-size="9.6" textLength="9" lengthAdjust="spacingAndGlyphs" fill="#222" stroke="none">(f)</text>
<text x="543" y="478" font-family='"Liberation Serif", serif' font-weight="bold" font-size="9" textLength="55" lengthAdjust="spacingAndGlyphs" fill="#111" >Travel time (µs)</text>
<text transform="translate(468.1,389.6) rotate(-90)" x="0" y="0" font-family='"Liberation Serif", serif' font-weight="bold" font-size="8.9" textLength="49.8" lengthAdjust="spacingAndGlyphs" fill="#111" >Frequency</text>
<text x="213.9" y="739.6" font-family='"Liberation Serif", serif' font-weight="bold" font-size="9.8" textLength="4.3" lengthAdjust="spacingAndGlyphs" fill="#111" >0</text>
<text x="209.6" y="678.6" font-family='"Liberation Serif", serif' font-weight="bold" font-size="9.8" textLength="8.6" lengthAdjust="spacingAndGlyphs" fill="#111" >10</text>
<text x="209.6" y="617.6" font-family='"Liberation Serif", serif' font-weight="bold" font-size="9.8" textLength="8.6" lengthAdjust="spacingAndGlyphs" fill="#111" >20</text>
<text x="209.6" y="556.6" font-family='"Liberation Serif", serif' font-weight="bold" font-size="9.8" textLength="8.6" lengthAdjust="spacingAndGlyphs" fill="#111" >30</text>
<text x="218.1" y="749.9" font-family='"Liberation Sans", sans-serif' font-weight="bold" font-size="10" textLength="10.6" lengthAdjust="spacingAndGlyphs" fill="#111" stroke="none">10</text>
<text x="240.11" y="749.9" font-family='"Liberation Sans", sans-serif' font-weight="bold" font-size="10" textLength="10.6" lengthAdjust="spacingAndGlyphs" fill="#111" stroke="none">12</text>
<text x="262.12" y="749.9" font-family='"Liberation Sans", sans-serif' font-weight="bold" font-size="10" textLength="10.6" lengthAdjust="spacingAndGlyphs" fill="#111" stroke="none">14</text>
<text x="284.12" y="749.9" font-family='"Liberation Sans", sans-serif' font-weight="bold" font-size="10" textLength="10.6" lengthAdjust="spacingAndGlyphs" fill="#111" stroke="none">16</text>
<text x="306.13" y="749.9" font-family='"Liberation Sans", sans-serif' font-weight="bold" font-size="10" textLength="10.6" lengthAdjust="spacingAndGlyphs" fill="#111" stroke="none">18</text>
<text x="328.14" y="749.9" font-family='"Liberation Sans", sans-serif' font-weight="bold" font-size="10" textLength="10.6" lengthAdjust="spacingAndGlyphs" fill="#111" stroke="none">20</text>
<text x="350.15" y="749.9" font-family='"Liberation Sans", sans-serif' font-weight="bold" font-size="10" textLength="10.6" lengthAdjust="spacingAndGlyphs" fill="#111" stroke="none">22</text>
<text x="372.16" y="749.9" font-family='"Liberation Sans", sans-serif' font-weight="bold" font-size="10" textLength="10.6" lengthAdjust="spacingAndGlyphs" fill="#111" stroke="none">24</text>
<text x="394.17" y="749.9" font-family='"Liberation Sans", sans-serif' font-weight="bold" font-size="10" textLength="10.6" lengthAdjust="spacingAndGlyphs" fill="#111" stroke="none">26</text>
<text x="416.18" y="749.9" font-family='"Liberation Sans", sans-serif' font-weight="bold" font-size="10" textLength="10.6" lengthAdjust="spacingAndGlyphs" fill="#111" stroke="none">28</text>
<text x="438.18" y="749.9" font-family='"Liberation Sans", sans-serif' font-weight="bold" font-size="10" textLength="10.6" lengthAdjust="spacingAndGlyphs" fill="#111" stroke="none">30</text>
<text x="460.19" y="749.9" font-family='"Liberation Sans", sans-serif' font-weight="bold" font-size="10" textLength="10.6" lengthAdjust="spacingAndGlyphs" fill="#111" stroke="none">32</text>
<text x="482.2" y="749.9" font-family='"Liberation Sans", sans-serif' font-weight="bold" font-size="10" textLength="10.6" lengthAdjust="spacingAndGlyphs" fill="#111" stroke="none">34</text>
<text x="282.2" y="762.2" font-family='"Liberation Serif", serif' font-weight="bold" font-size="12" textLength="145.4" lengthAdjust="spacingAndGlyphs" fill="#111" >Compressive strength (MPa)</text>
<text transform="translate(204.4,658) rotate(-90)" x="0" y="0" font-family='"Liberation Serif", serif' font-weight="bold" font-size="11" textLength="57.7" lengthAdjust="spacingAndGlyphs" fill="#111" >Frequency</text>
</g>
</svg>
</body></html>
